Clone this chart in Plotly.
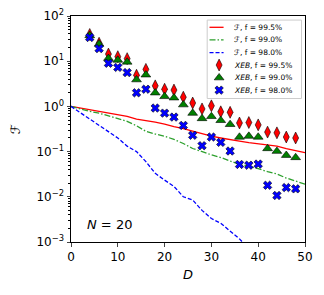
import plotly.graph_objects as go

# Theory curves
D_line = [0, 2, 4, 6, 8, 10, 12, 14, 16, 18, 20, 22, 24, 26, 28, 30, 32, 34, 36, 38, 40, 42, 44, 46, 48, 50]
F_995 = [1.0, 0.923, 0.851, 0.785, 0.724, 0.661, 0.603, 0.525, 0.490, 0.447, 0.407, 0.355, 0.324,
         0.282, 0.251, 0.219, 0.200, 0.182, 0.170, 0.158, 0.148, 0.138, 0.132, 0.117, 0.105, 0.095]
F_990 = [1.0, 0.871, 0.776, 0.708, 0.617, 0.537, 0.468, 0.372, 0.282, 0.245, 0.219, 0.186, 0.151,
         0.117, 0.098, 0.085, 0.074, 0.062, 0.052, 0.047, 0.042, 0.036, 0.032, 0.026, 0.022, 0.019]
D_line98 = [0, 2, 4, 6, 8, 10, 12, 14, 16, 18, 20, 22, 24, 26, 28, 30, 32, 34, 36, 38]
F_980 = [1.0, 0.724, 0.513, 0.372, 0.275, 0.200, 0.132, 0.100, 0.060, 0.033, 0.0234, 0.0170, 0.0100,
         0.0085, 0.0050, 0.0033, 0.0026, 0.00178, 0.00117, 0.00071]

# XEB estimates
D_pts = [4, 6, 8, 10, 12, 14, 16, 18, 20, 22, 24, 26, 28, 30, 32, 34, 36, 38, 40, 42, 44, 46, 48]
XEB_995 = [39, 25, 14.4, 12.6, 11.4, 4.9, 6.6, 2.85, 2.4, 2.3, 1.6, 1.19, 0.88, 1.03, 0.76, 0.74,
           0.43, 0.44, 0.39, 0.27, 0.26, 0.21, 0.20]
XEB_990 = [37, 24, 11.6, 10.6, 9.6, 3.9, 5.0, 2.0, 1.66, 1.55, 1.09, 0.71, 0.54, 0.60, 0.49, 0.40,
           0.21, 0.22, 0.21, 0.117, 0.102, 0.083, 0.074]
XEB_980 = [33.5, 19, 9.0, 7.3, 5.6, 2.0, 2.4, 0.92, 0.71, 0.58, 0.38, 0.23, 0.135, 0.21, 0.16, 0.103,
           0.052, 0.050, 0.053, 0.018, 0.0107, 0.016, 0.015]

legend_labels = ["ℱ, f = 99.5%", "ℱ, f = 99.0%", "ℱ, f = 98.0%",
                 "<i>XEB</i>, f = 99.5%", "<i>XEB</i>, f = 99.0%", "<i>XEB</i>, f = 98.0%"]

y_tickvals = [1e-3, 1e-2, 1e-1, 1, 10, 100]
y_ticktext = ["10<sup>−3</sup>", "10<sup>−2</sup>", "10<sup>−1</sup>", "10<sup>0</sup>",
              "10<sup>1</sup>", "10<sup>2</sup>"]
x_tickvals = [0, 10, 20, 30, 40, 50]

FONT = "DejaVu Sans"

line_styles = [dict(color="#ff0000", width=1.3),
               dict(color="#2ca02c", width=1.3, dash="6px,2px,1.5px,2px"),
               dict(color="#0000ff", width=1.3, dash="4px,2px")]
marker_styles = [dict(symbol="diamond-tall", size=8.5, color="#ff0000", line=dict(color="black", width=0.6)),
                 dict(symbol="triangle-up", size=8.5, color="#008000", line=dict(color="black", width=0.6)),
                 dict(symbol="x", size=7.5, color="#0000ff", line=dict(color="black", width=0.6))]

fig = go.Figure()
for xs, ys, ls in [(D_line, F_995, line_styles[0]), (D_line, F_990, line_styles[1]),
                   (D_line98, F_980, line_styles[2])]:
    fig.add_trace(go.Scatter(x=xs, y=ys, mode="lines", line=ls, showlegend=False, hoverinfo="skip"))
for ys, ms in [(XEB_995, marker_styles[0]), (XEB_990, marker_styles[1]), (XEB_980, marker_styles[2])]:
    fig.add_trace(go.Scatter(x=D_pts, y=ys, mode="markers", marker=ms, showlegend=False))

# ---- compact legend (matplotlib style) drawn on an overlay unit axis ----
box_x0, box_x1, box_y0, box_y1 = 0.582, 0.985, 0.635, 0.982
row_y = [0.950, 0.894, 0.838, 0.783, 0.727, 0.672]
fig.add_shape(type="rect", xref="paper", yref="paper", x0=box_x0, x1=box_x1, y0=box_y0, y1=box_y1,
              line=dict(color="#cccccc", width=1), fillcolor="white", layer="below")
for i in range(3):
    fig.add_trace(go.Scatter(x=[0.592, 0.652], y=[row_y[i], row_y[i]], mode="lines", line=line_styles[i],
                             xaxis="x2", yaxis="y2", showlegend=False, hoverinfo="skip", cliponaxis=False))
for i in range(3):
    fig.add_trace(go.Scatter(x=[0.633], y=[row_y[3 + i]], mode="markers", marker=marker_styles[i],
                             xaxis="x2", yaxis="y2", showlegend=False, hoverinfo="skip", cliponaxis=False))
for i, lab in enumerate(legend_labels):
    fig.add_annotation(x=0.69, y=row_y[i], xref="paper", yref="paper", xanchor="left", yanchor="middle",
                       text=lab, showarrow=False, font=dict(family=FONT, size=7.5, color="black"))

fig.add_annotation(x=0.06, y=0.078, xref="paper", yref="paper", xanchor="left", yanchor="middle",
                   text="<i>N</i> = 20", showarrow=False, font=dict(family=FONT, size=13, color="black"))

# the page body has an 8px margin, so the figure is placed at (8, 8)
fig.update_layout(
    width=316, height=287,
    margin=dict(l=63, r=19, t=8, b=53),
    paper_bgcolor="white", plot_bgcolor="white",
    font=dict(family=FONT, size=12, color="black"),
    showlegend=False,
    xaxis=dict(range=[0, 50], tickvals=x_tickvals, ticks="outside", ticklen=3.5, tickwidth=0.8,
               showgrid=False, zeroline=False, showline=True, linecolor="black", linewidth=1,
               mirror=True, tickfont=dict(family=FONT, size=12), automargin=False,
               ticklabeloverflow="allow",
               title=dict(text="<i>D</i>", font=dict(size=13), standoff=6)),
    yaxis=dict(type="log", range=[-3, 2], tickvals=y_tickvals, ticktext=y_ticktext,
               ticks="outside", ticklen=3.5, tickwidth=0.8,
               minor=dict(ticks="outside", ticklen=2, tickwidth=0.6, tickcolor="black", dtick="D1"),
               showgrid=False, zeroline=False, showline=True, linecolor="black", linewidth=1,
               mirror=True, tickfont=dict(family=FONT, size=12), automargin=False,
               ticklabeloverflow="allow",
               title=dict(text="ℱ", font=dict(size=13), standoff=16)),
    xaxis2=dict(overlaying="x", range=[0, 1], visible=False, fixedrange=True),
    yaxis2=dict(overlaying="y", range=[0, 1], visible=False, fixedrange=True),
)

fig.write_html("out.html")
